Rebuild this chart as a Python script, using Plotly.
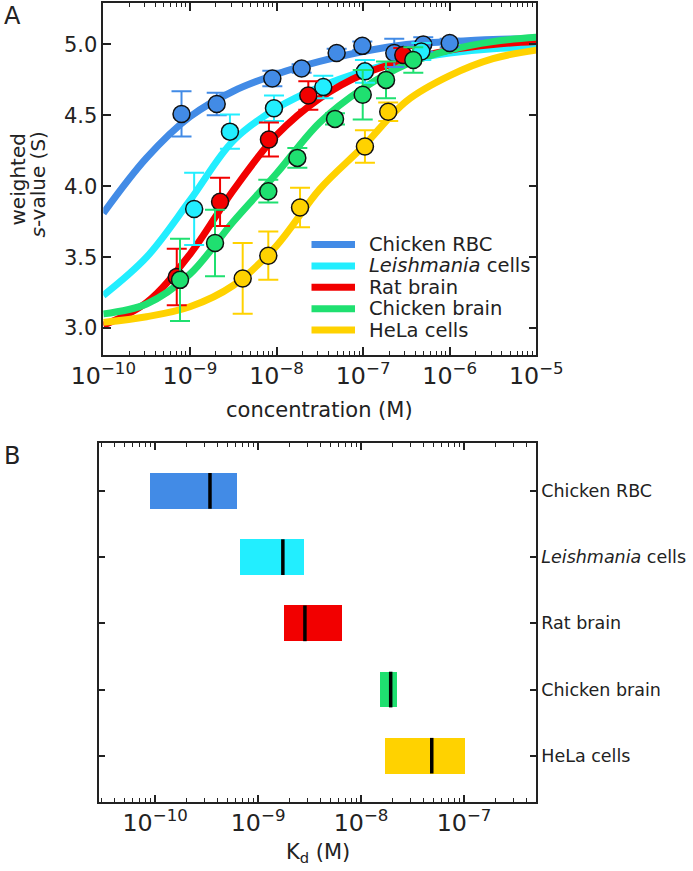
import plotly.graph_objects as go

W, H = 693, 871

# ---------------- data ----------------
series_names = ["Chicken RBC", "<i>Leishmania</i> cells", "Rat brain", "Chicken brain", "HeLa cells"]
series_colors = ["#428BE6", "#22EEFF", "#F20000", "#1FE070", "#FFD200"]

# Panel A: measured points (concentration M, weighted s-value S, error)
rbc_conc = [8.0e-10, 2.04e-9, 8.95e-9, 1.95e-8, 4.95e-8, 9.8e-8, 2.29e-7, 4.95e-7, 1.0e-6]
rbc_s = [4.51, 4.58, 4.76, 4.83, 4.94, 4.99, 4.94, 5.00, 5.01]
rbc_err = [0.16, 0.08, 0.055, 0.03, 0.03, 0.03, 0.10, 0.05, 0.03]

leish_conc = [1.12e-9, 2.9e-9, 9.35e-9, 3.47e-8, 1.05e-7, 4.7e-7]
leish_s = [3.84, 4.385, 4.55, 4.70, 4.81, 4.95]
leish_err = [0.255, 0.12, 0.09, 0.08, 0.08, 0.06]

rat_conc = [7.05e-10, 2.23e-9, 8.18e-9, 2.33e-8, 2.91e-7]
rat_s = [3.36, 3.89, 4.33, 4.64, 4.925]
rat_err = [0.20, 0.17, 0.12, 0.10, 0.05]

cb_conc = [7.69e-10, 1.95e-9, 8.04e-9, 1.74e-8, 4.74e-8, 9.9e-8, 1.84e-7, 3.8e-7]
cb_s = [3.34, 3.60, 3.965, 4.20, 4.475, 4.645, 4.75, 4.89]
cb_err = [0.29, 0.235, 0.08, 0.07, 0.04, 0.175, 0.13, 0.09]

hela_conc = [4.07e-9, 8.04e-9, 1.87e-8, 1.05e-7, 1.95e-7]
hela_s = [3.35, 3.51, 3.85, 4.28, 4.525]
hela_err = [0.25, 0.17, 0.14, 0.115, 0.065]

# Panel A: fitted curves at half-decade steps
curve_conc = [1e-10, 3.16e-10, 1e-9, 3.16e-9, 1e-8, 3.16e-8, 1e-7, 3.16e-7, 1e-6, 3.16e-6, 1e-5]
rbc_fit = [3.81, 4.20, 4.49, 4.67, 4.79, 4.88, 4.95, 5.00, 5.02, 5.035, 5.04]
leish_fit = [3.23, 3.50, 3.90, 4.32, 4.55, 4.70, 4.81, 4.89, 4.94, 4.97, 4.98]
rat_fit = [3.02, 3.18, 3.52, 3.97, 4.36, 4.62, 4.79, 4.89, 4.96, 5.00, 5.02]
cb_fit = [3.10, 3.17, 3.38, 3.75, 4.09, 4.45, 4.69, 4.86, 4.96, 5.02, 5.05]
hela_fit = [3.04, 3.08, 3.15, 3.30, 3.58, 3.98, 4.28, 4.60, 4.78, 4.90, 4.96]

# Panel B: Kd ranges (M)
kd_low = [8.9e-11, 6.7e-10, 1.78e-9, 1.53e-8, 1.72e-8]
kd_high = [6.3e-10, 2.77e-9, 6.47e-9, 2.22e-8, 1.03e-7]
kd_mid = [3.41e-10, 1.74e-9, 2.85e-9, 1.94e-8, 4.86e-8]

y_ticks_A = [3.0, 3.5, 4.0, 4.5, 5.0]

points = [(rbc_conc, rbc_s, rbc_err), (leish_conc, leish_s, leish_err),
          (rat_conc, rat_s, rat_err), (cb_conc, cb_s, cb_err),
          (hela_conc, hela_s, hela_err)]
fits = [rbc_fit, leish_fit, rat_fit, cb_fit, hela_fit]

FONT = "DejaVu Sans"
AX = "#222222"

fig = go.Figure()

# curves
for name, col, fit in zip(series_names, series_colors, fits):
    fig.add_trace(go.Scatter(x=curve_conc, y=fit, mode="lines", name=name,
                             line=dict(color=col, width=7, shape="spline", smoothing=1.0),
                             showlegend=False, hoverinfo="skip", xaxis="x", yaxis="y"))
# points with error bars
for name, col, (cx, cy, ce) in zip(series_names, series_colors, points):
    fig.add_trace(go.Scatter(x=cx, y=cy, mode="markers", name=name, showlegend=False,
                             marker=dict(size=17, color=col, line=dict(color="#111111", width=1.5)),
                             error_y=dict(type="data", array=ce, visible=True, color=col,
                                          thickness=2, width=10),
                             xaxis="x", yaxis="y"))

# Panel B bars
bar_len = [h - l for l, h in zip(kd_low, kd_high)]
fig.add_trace(go.Bar(y=series_names, x=bar_len, base=kd_low, orientation="h", width=0.54,
                     marker=dict(color=series_colors, line=dict(width=0)),
                     showlegend=False, xaxis="x2", yaxis="y2"))
fig.add_trace(go.Scatter(x=kd_mid, y=series_names, mode="markers", showlegend=False,
                         marker=dict(symbol="line-ns", size=25.5,
                                     line=dict(color="black", width=3.5)),
                         xaxis="x2", yaxis="y2"))

# ---------------- layout ----------------
A_l, A_r, A_t, A_b = 103.3, 536.3, 3.3, 355.0
B_l, B_r, B_t, B_b = 99.0, 536.0, 443.0, 801.7

def px(x):
    return x / W

def py(y):
    return 1 - y / H

common_ax = dict(showline=True, linecolor=AX, linewidth=1.5, mirror="ticks",
                 ticks="inside", tickcolor=AX, tickwidth=1.5, showgrid=False,
                 zeroline=False, automargin=False)

fig.update_layout(
    width=W, height=H, margin=dict(l=0, r=0, t=0, b=0),
    paper_bgcolor="white", plot_bgcolor="white",
    font=dict(family=FONT, color=AX),
    xaxis=dict(domain=[px(A_l), px(A_r)], anchor="y", type="log", range=[-10, -5],
               dtick=1, exponentformat="power", ticklen=8,
               minor=dict(ticks="inside", ticklen=4, tickwidth=1.2, tickcolor=AX, dtick="D1", showgrid=False),
               tickfont=dict(size=19, family=FONT, color=AX), **common_ax),
    yaxis=dict(domain=[py(A_b), py(A_t)], anchor="x", range=[2.81, 5.29],
               tickvals=y_ticks_A, ticktext=[f"{v:.1f}" for v in y_ticks_A], ticklen=8,
               tickfont=dict(size=21, family=FONT, color=AX), **common_ax),
    xaxis2=dict(domain=[px(B_l), px(B_r)], anchor="y2", type="log", range=[-10.545, -6.301],
                dtick=1, exponentformat="power", ticklen=7,
                minor=dict(ticks="inside", ticklen=4, tickwidth=1.2, tickcolor=AX, dtick="D1", showgrid=False),
                tickfont=dict(size=19, family=FONT, color=AX), **common_ax),
    yaxis2=dict(domain=[py(B_b), py(B_t)], anchor="x2", type="category",
                categoryorder="array", categoryarray=series_names,
                range=[4.694, -0.724], side="right", ticklen=6,
                tickfont=dict(size=17.5, family=FONT, color=AX), **common_ax),
    bargap=0,
)

def text_ann(text, x, y, size, angle=0, xanchor="center"):
    return dict(text=text, x=px(x), y=py(y), xref="paper", yref="paper",
                xanchor=xanchor, yanchor="middle", textangle=angle,
                showarrow=False, font=dict(size=size, family=FONT, color=AX))

ann = []
ann.append(text_ann("A", 12, 16, 24))
ann.append(text_ann("B", 12, 456, 24))
ann.append(text_ann("concentration (M)", (A_l + A_r) / 2, 410, 21))
ann.append(text_ann("K<sub>d</sub> (M)", (B_l + B_r) / 2, 853, 21))
ann.append(text_ann("weighted", 17.5, 180, 20, angle=-90))
ann.append(text_ann("<i>s</i>-value (S)", 37.5, 185, 20, angle=-90))

# legend (panel A)
shapes = []
leg_y0, leg_dy = 244.5, 21.4
for i, (name, col) in enumerate(zip(series_names, series_colors)):
    yy = leg_y0 + i * leg_dy
    shapes.append(dict(type="line", xref="paper", yref="paper", x0=px(311.5), x1=px(355),
                       y0=py(yy), y1=py(yy), line=dict(color=col, width=7)))
    ann.append(text_ann(name, 367, yy, 19.5, xanchor="left"))

fig.update_layout(annotations=ann, shapes=shapes)

fig.write_html("out.html", config={"displayModeBar": False},
               post_script="document.body.style.margin='0px';")
